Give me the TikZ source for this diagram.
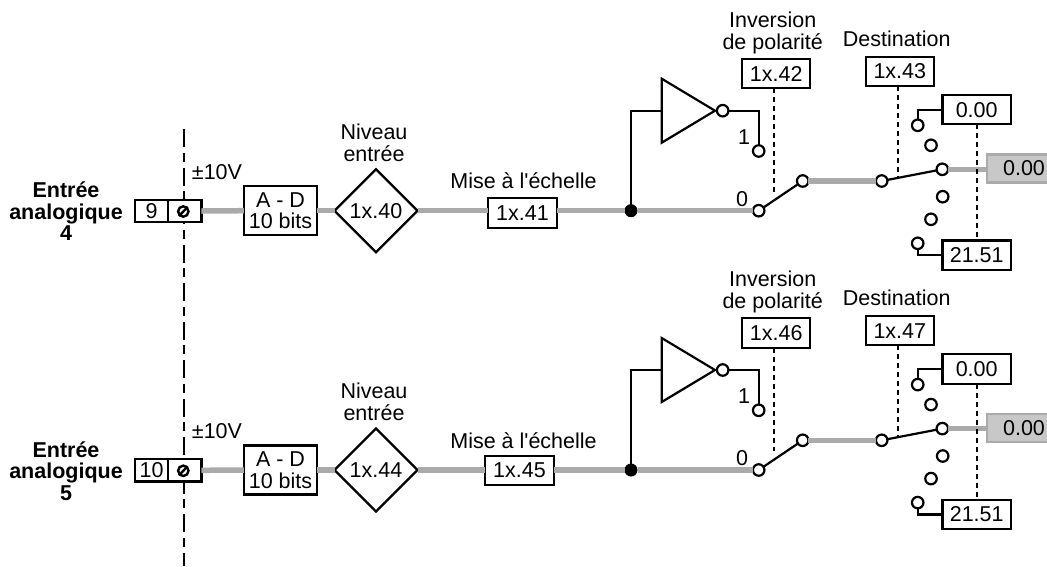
\documentclass[tikz,border=0pt]{standalone}
\usepackage{fontspec}
\setmainfont{Liberation Sans}
\usetikzlibrary{shapes.geometric}
\definecolor{sig}{HTML}{AAAAAA}
\definecolor{outfill}{HTML}{C8C8C8}
\tikzset{
  x=1pt,y=-1pt,
  every node/.style={inner sep=0pt,outer sep=0pt,font=\fontsize{21.5}{21.7}\selectfont,text=black},
  lbl/.style={align=center},
  boldlbl/.style={align=center,font=\fontsize{21.5}{21.5}\selectfont\bfseries},
  parambox/.style={draw=black,line width=2.2pt,fill=white,minimum width=68.3pt,minimum height=29.3pt},
  adbox/.style={draw=black,line width=2.2pt,fill=white,minimum width=73.3pt,minimum height=49pt,align=center},
  termbox/.style={draw=black,line width=2.2pt,fill=white,minimum height=22.3pt},
  dmd/.style={draw=black,line width=2.2pt,fill=white,diamond,aspect=1,minimum width=83pt,minimum height=83pt},
  inv/.style={draw=black,line width=2.2pt,fill=white,isosceles triangle,isosceles triangle stretches,shape border rotate=0,minimum height=53.3pt,minimum width=64pt},
  pin/.style={circle,draw=black,line width=2.2pt,fill=white,minimum size=11.5pt},
  junction/.style={circle,fill=black,minimum size=13pt},
  outbox/.style={draw=sig,line width=2.2pt,fill=outfill,minimum width=70pt,minimum height=28pt},
  sigline/.style={draw=sig,line width=5.5pt},
  ctl/.style={draw=black,line width=2.2pt},
  setline/.style={draw=black,line width=2.2pt,dash pattern=on 5pt off 4pt},
  barrier/.style={draw=black,line width=2.2pt,dash pattern=on 18pt off 5.5pt on 9pt off 6pt},
}
\newcommand{\analogrow}[9]{%
 \begin{scope}[yshift=#1]
  \node[boldlbl] (name#2) at (66,211.5) {Entrée\\analogique\\#4};
  \node[lbl] at (217,172) {±10V};
  \node[termbox,minimum width=33pt] (term#2) at (151.7,211) {#3};
  \node[termbox,minimum width=33.4pt] (screw#2) at (184.7,211) {};
  \draw[line width=2.4pt] (183.3,211.5) circle (5.2);
  \draw[line width=2.4pt] (179,216) -- (187.6,207);
  \node[adbox] (ad#2) at (280.5,210.7) {A - D\\10 bits};
  \node[dmd] (lvl#2) at (376,210.7) {#5};
  \node[lbl] at (374,142.5) {Niveau\\entrée};
  \node[lbl] at (523.5,181) {Mise à l\textquotesingle échelle};
  \node[parambox] (scale#2) at (#9) {#6};
  \node[junction] (dot#2) at (631,210.7) {};
  \node[inv,anchor=apex] (not#2) at (715,110.7) {};
  \node[pin] (notout#2) at (722.7,110.7) {};
  \node[pin] (sw1#2) at (758.7,151) {};
  \node[pin] (sw0#2) at (758.7,210.7) {};
  \node[pin] (swc#2) at (802.7,181) {};
  \node[lbl] at (744,137) {1};
  \node[lbl] at (742,199) {0};
  \node[lbl] at (772.7,32.7) {Inversion\\de polarité};
  \node[parambox] (ip#2) at (776.2,73.7) {#7};
  \node[lbl] at (896.7,39) {Destination};
  \node[parambox] (dp#2) at (899.8,71.4) {#8};
  \coordinate (ipend#2) at (774.3,191.7);
  \coordinate (dpend#2) at (898.3,178);
  \node[parambox] (minb#2) at (976.7,109.7) {0.00};
  \node[parambox] (maxb#2) at (976.7,255.2) {21.51};
  \node[pin] (d1#2) at (917.7,125.3) {};
  \node[pin] (d2#2) at (931,145.3) {};
  \node[pin] (d3#2) at (942.3,169.3) {};
  \node[pin] (d4#2) at (942.7,196.7) {};
  \node[pin] (d5#2) at (931,219.3) {};
  \node[pin] (d6#2) at (917.7,243.3) {};
  \node[pin] (dc#2) at (881.7,181) {};
  \node[outbox] (out#2) at (1022,168.5) {\hspace*{4pt}0.00};
  \draw[sigline] (screw#2.east) -- (ad#2.west);
  \draw[sigline] (ad#2.east) -- (lvl#2.west);
  \draw[sigline] (lvl#2.east) -- (lvl#2.east-|scale#2.west);
  \draw[sigline] (dot#2-|scale#2.east) -- (dot#2.west);
  \draw[sigline] (dot#2.east) -- (sw0#2.west);
  \draw[sigline] (swc#2.east) -- (dc#2.west);
  \draw[sigline] (d3#2.east) -- (d3#2.east-|out#2.west);
  \draw[ctl] (dot#2.center) |- (not#2.lower side);
  \draw[ctl] (notout#2.east) -| (sw1#2.north);
  \draw[ctl] (sw0#2) -- (swc#2);
  \draw[ctl] (dc#2) -- (d3#2);
  \draw[ctl] (minb#2.west) -| (d1#2.north);
  \draw[ctl] (d6#2.south) |- (maxb#2.west);
  \draw[setline] (ip#2.south-|ipend#2) -- (ipend#2);
  \draw[setline] (dp#2.south-|dpend#2) -- (dpend#2);
  \draw[setline] (minb#2.south-|maxb#2.north) -- (maxb#2.north);
 \end{scope}
}
\begin{document}
\begin{tikzpicture}
\useasboundingbox (0,0) rectangle (1047,566);
\coordinate (bartop) at (184,129);
\coordinate (barbot) at (184,566);
\draw[barrier] (bartop) -- (barbot);
\analogrow{0pt}{a}{9}{4}{1x.40}{1x.41}{1x.42}{1x.43}{522.5,213}
\analogrow{-259.3pt}{b}{10}{5}{1x.44}{1x.45}{1x.46}{1x.47}{519.5,211}
\end{tikzpicture}
\end{document}
